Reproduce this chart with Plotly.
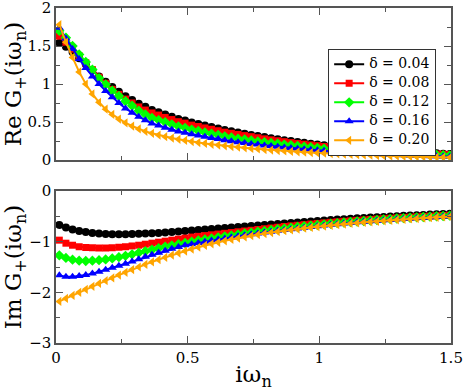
import plotly.graph_objects as go

# Matsubara frequencies iw_n
omega = [0.0126, 0.0377, 0.0628, 0.0880, 0.1131, 0.1382, 0.1634, 0.1885, 0.2136, 0.2388,
         0.2639, 0.2890, 0.3142, 0.3393, 0.3644, 0.3896, 0.4147, 0.4398, 0.4650, 0.4901,
         0.5152, 0.5404, 0.5655, 0.5906, 0.6158, 0.6409, 0.6660, 0.6912, 0.7163, 0.7414,
         0.7665, 0.7917, 0.8168, 0.8419, 0.8671, 0.8922, 0.9173, 0.9425, 0.9676, 0.9927,
         1.0179, 1.0430, 1.0681, 1.0933, 1.1184, 1.1435, 1.1687, 1.1938, 1.2189, 1.2441,
         1.2692, 1.2943, 1.3195, 1.3446, 1.3697, 1.3948, 1.4200, 1.4451, 1.4702, 1.4954]

labels = ["δ = 0.04", "δ = 0.08", "δ = 0.12", "δ = 0.16", "δ = 0.20"]

re_004 = [1.54, 1.49, 1.42, 1.34, 1.26, 1.18, 1.10, 1.03, 0.96, 0.90,
          0.84, 0.79, 0.74, 0.70, 0.66, 0.63, 0.60, 0.57, 0.54, 0.52,
          0.495, 0.475, 0.455, 0.435, 0.415, 0.395, 0.378, 0.362, 0.346, 0.331,
          0.316, 0.302, 0.288, 0.275, 0.262, 0.250, 0.238, 0.227, 0.216, 0.206,
          0.196, 0.187, 0.178, 0.170, 0.162, 0.155, 0.148, 0.141, 0.135, 0.129,
          0.123, 0.117, 0.112, 0.107, 0.102, 0.097, 0.093, 0.089, 0.085, 0.081]
re_008 = [1.63, 1.55, 1.46, 1.37, 1.28, 1.19, 1.09, 1.01, 0.93, 0.864,
          0.802, 0.751, 0.699, 0.658, 0.620, 0.592, 0.561, 0.533, 0.505, 0.486,
          0.460, 0.442, 0.423, 0.405, 0.386, 0.367, 0.352, 0.337, 0.322, 0.308,
          0.294, 0.279, 0.266, 0.254, 0.242, 0.230, 0.219, 0.209, 0.199, 0.190,
          0.179, 0.171, 0.163, 0.155, 0.147, 0.141, 0.135, 0.128, 0.122, 0.117,
          0.111, 0.105, 0.101, 0.096, 0.092, 0.087, 0.084, 0.080, 0.077, 0.073]
re_012 = [1.70, 1.61, 1.50, 1.39, 1.29, 1.19, 1.078, 0.994, 0.912, 0.842,
          0.773, 0.715, 0.648, 0.599, 0.554, 0.526, 0.498, 0.470, 0.443, 0.424,
          0.401, 0.382, 0.364, 0.348, 0.330, 0.312, 0.297, 0.282, 0.270, 0.258,
          0.246, 0.236, 0.225, 0.215, 0.204, 0.195, 0.186, 0.177, 0.168, 0.161,
          0.151, 0.144, 0.137, 0.131, 0.125, 0.119, 0.112, 0.107, 0.103, 0.098,
          0.093, 0.089, 0.084, 0.080, 0.077, 0.073, 0.070, 0.067, 0.064, 0.061]
re_016 = [1.74, 1.60, 1.46, 1.33, 1.21, 1.10, 1.00, 0.91, 0.825, 0.75,
          0.680, 0.624, 0.570, 0.525, 0.482, 0.454, 0.426, 0.399, 0.375, 0.359,
          0.339, 0.323, 0.307, 0.291, 0.276, 0.261, 0.248, 0.235, 0.225, 0.213,
          0.204, 0.193, 0.184, 0.175, 0.166, 0.158, 0.150, 0.142, 0.135, 0.128,
          0.122, 0.115, 0.109, 0.103, 0.097, 0.093, 0.088, 0.083, 0.079, 0.075,
          0.071, 0.067, 0.064, 0.061, 0.058, 0.054, 0.052, 0.049, 0.047, 0.045]
re_020 = [1.78, 1.55, 1.35, 1.16, 1.00, 0.87, 0.76, 0.67, 0.60, 0.54,
          0.49, 0.448, 0.41, 0.378, 0.352, 0.329, 0.308, 0.290, 0.273, 0.258,
          0.244, 0.231, 0.219, 0.208, 0.197, 0.187, 0.178, 0.169, 0.161, 0.153,
          0.146, 0.139, 0.132, 0.126, 0.120, 0.114, 0.109, 0.104, 0.099, 0.094,
          0.090, 0.086, 0.082, 0.078, 0.074, 0.071, 0.067, 0.064, 0.061, 0.058,
          0.055, 0.053, 0.050, 0.048, 0.045, 0.043, 0.041, 0.039, 0.037, 0.035]

im_004 = [-0.67, -0.72, -0.76, -0.79, -0.81, -0.83, -0.84, -0.85, -0.855, -0.855,
          -0.855, -0.85, -0.845, -0.84, -0.835, -0.83, -0.82, -0.81, -0.80, -0.79,
          -0.78, -0.77, -0.76, -0.75, -0.74, -0.73, -0.72, -0.71, -0.70, -0.69,
          -0.68, -0.67, -0.66, -0.65, -0.64, -0.63, -0.62, -0.61, -0.60, -0.59,
          -0.58, -0.572, -0.564, -0.556, -0.548, -0.54, -0.532, -0.525, -0.518, -0.511,
          -0.504, -0.497, -0.49, -0.484, -0.478, -0.472, -0.466, -0.46, -0.455, -0.45]
im_008 = [-0.97, -1.03, -1.07, -1.10, -1.115, -1.12, -1.125, -1.125, -1.12, -1.11,
          -1.10, -1.085, -1.07, -1.05, -1.03, -1.01, -0.99, -0.97, -0.95, -0.93,
          -0.91, -0.895, -0.88, -0.865, -0.85, -0.835, -0.82, -0.805, -0.79, -0.775,
          -0.76, -0.745, -0.73, -0.715, -0.70, -0.688, -0.676, -0.664, -0.652, -0.64,
          -0.629, -0.618, -0.608, -0.598, -0.589, -0.58, -0.571, -0.562, -0.554, -0.546,
          -0.538, -0.53, -0.523, -0.516, -0.509, -0.502, -0.496, -0.49, -0.484, -0.478]
im_012 = [-1.27, -1.32, -1.355, -1.375, -1.38, -1.375, -1.365, -1.35, -1.33, -1.305,
          -1.28, -1.25, -1.22, -1.19, -1.16, -1.13, -1.10, -1.075, -1.05, -1.025,
          -1.00, -0.978, -0.956, -0.935, -0.915, -0.895, -0.876, -0.857, -0.839, -0.821,
          -0.804, -0.787, -0.771, -0.755, -0.74, -0.725, -0.711, -0.697, -0.684, -0.671,
          -0.658, -0.646, -0.634, -0.623, -0.612, -0.601, -0.591, -0.581, -0.571, -0.562,
          -0.553, -0.544, -0.536, -0.528, -0.52, -0.513, -0.506, -0.499, -0.492, -0.486]
im_016 = [-1.665, -1.69, -1.69, -1.68, -1.66, -1.63, -1.595, -1.555, -1.515, -1.475,
          -1.435, -1.39, -1.345, -1.30, -1.26, -1.22, -1.18, -1.14, -1.105, -1.07,
          -1.05, -1.026, -1.002, -0.979, -0.957, -0.935, -0.914, -0.893, -0.874, -0.855,
          -0.837, -0.819, -0.802, -0.785, -0.769, -0.753, -0.738, -0.723, -0.709, -0.695,
          -0.681, -0.668, -0.655, -0.643, -0.631, -0.619, -0.609, -0.598, -0.588, -0.578,
          -0.569, -0.559, -0.551, -0.542, -0.534, -0.526, -0.519, -0.511, -0.504, -0.498]
im_020 = [-2.18, -2.12, -2.06, -2.00, -1.94, -1.88, -1.825, -1.77, -1.715, -1.66,
          -1.605, -1.55, -1.50, -1.45, -1.40, -1.355, -1.31, -1.265, -1.225, -1.185,
          -1.145, -1.11, -1.075, -1.043, -1.012, -0.983, -0.956, -0.93, -0.906, -0.883,
          -0.861, -0.84, -0.82, -0.801, -0.783, -0.766, -0.75, -0.734, -0.719, -0.705,
          -0.691, -0.678, -0.665, -0.653, -0.641, -0.63, -0.619, -0.608, -0.598, -0.588,
          -0.578, -0.569, -0.56, -0.551, -0.543, -0.535, -0.527, -0.52, -0.513, -0.506]

re_series = [re_004, re_008, re_012, re_016, re_020]
im_series = [im_004, im_008, im_012, im_016, im_020]
colors = ["#000000", "#ff0000", "#00ff00", "#0000ff", "#ffa500"]
symbols = ["circle", "square", "diamond", "triangle-up", "triangle-left"]
msizes = [8, 7, 8, 8, 8]

FONT = "DejaVu Serif"

fig = go.Figure()
for i in range(5):
    fig.add_trace(go.Scatter(
        x=omega, y=re_series[i], mode="lines+markers",
        name='<span style="font-size:14px">' + labels[i] + '</span>',
        line=dict(color=colors[i], width=2),
        marker=dict(symbol=symbols[i], size=msizes[i], color=colors[i]),
        xaxis="x", yaxis="y", showlegend=True))
for i in range(5):
    fig.add_trace(go.Scatter(
        x=omega, y=im_series[i], mode="lines+markers", name=labels[i],
        line=dict(color=colors[i], width=2),
        marker=dict(symbol=symbols[i], size=msizes[i], color=colors[i]),
        xaxis="x2", yaxis="y2", showlegend=False))

axis_common = dict(
    showline=True, linecolor="#555555", linewidth=1.5, mirror="ticks",
    ticks="inside", ticklen=7, tickwidth=1.2, tickcolor="#555555",
    showgrid=False, zeroline=False, automargin=False,
    ticklabeloverflow="allow",
    tickfont=dict(family=FONT, size=15, color="black"),
)
minor_ticks = dict(ticks="inside", ticklen=4, tickwidth=1.2, tickcolor="#555555")

fig.update_layout(
    width=463, height=391,
    margin=dict(l=56, r=12, t=8, b=48),
    paper_bgcolor="white", plot_bgcolor="white",
    font=dict(family=FONT, color="black"),
    xaxis=dict(domain=[0, 1], range=[0, 1.5], anchor="y", matches="x2",
               showticklabels=False, dtick=0.5,
               minor=dict(dtick=0.25, **minor_ticks),
               **axis_common),
    yaxis=dict(domain=[0.546, 1.0], range=[0, 2], anchor="x", dtick=0.5,
               minor=dict(dtick=0.25, **minor_ticks),
               title=dict(text="Re G<sub>+</sub>(iω<sub>n</sub>)",
                          font=dict(family=FONT, size=23), standoff=6),
               **axis_common),
    xaxis2=dict(domain=[0, 1], range=[0, 1.5], anchor="y2", dtick=0.5,
                tickvals=[0, 0.5, 1, 1.5], ticktext=["0", "0.5", "1", "1.5"],
                minor=dict(dtick=0.25, **minor_ticks),
                title=dict(text="iω<sub>n</sub>", font=dict(family=FONT, size=23),
                           standoff=2),
                **axis_common),
    yaxis2=dict(domain=[0, 0.4537], range=[-3, 0], anchor="x2", dtick=1,
                minor=dict(dtick=0.5, **minor_ticks),
                title=dict(text="Im G<sub>+</sub>(iω<sub>n</sub>)",
                           font=dict(family=FONT, size=23), standoff=6),
                **axis_common),
    legend=dict(x=0.689, y=0.878, xanchor="left", yanchor="top",
                bgcolor="white", bordercolor="#333333", borderwidth=1,
                font=dict(family=FONT, size=10, color="black"),
                itemwidth=30, tracegroupgap=0),
    showlegend=True,
)

fig.write_html("out.html", config={"displayModeBar": False},
               post_script="document.body.style.margin='0';document.body.style.overflow='hidden';")
